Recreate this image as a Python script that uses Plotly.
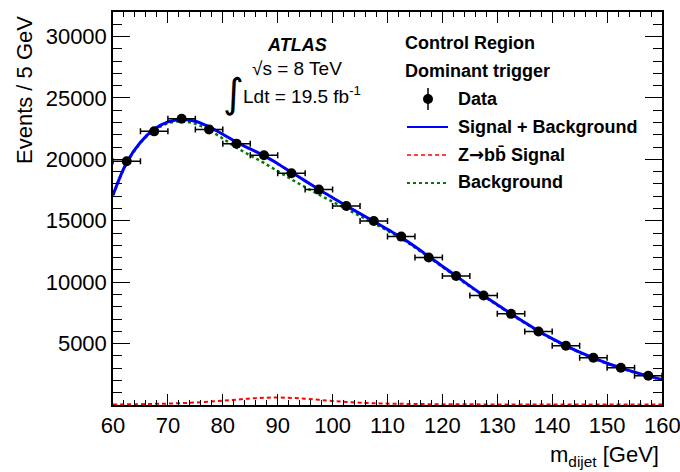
import plotly.graph_objects as go

# ---- data ----
bin_centers = [62.5, 67.5, 72.5, 77.5, 82.5, 87.5, 92.5, 97.5, 102.5, 107.5,
               112.5, 117.5, 122.5, 127.5, 132.5, 137.5, 142.5, 147.5, 152.5, 157.5]
data_counts = [19850, 22280, 23310, 22440, 21280, 20330, 18870, 17540, 16200, 14980,
               13710, 12010, 10510, 8920, 7420, 5990, 4820, 3850, 3030, 2380]
bin_half_width = [2.5] * len(bin_centers)

curve_x = [60, 62.5, 65, 67.5, 70, 72.5, 75, 77.5, 80, 82.5, 85, 87.5, 90, 92.5, 95,
           97.5, 100, 102.5, 105, 107.5, 110, 112.5, 115, 117.5, 120, 122.5, 125,
           127.5, 130, 132.5, 135, 137.5, 140, 142.5, 145, 147.5, 150, 152.5, 155,
           157.5, 160]
sig_plus_bkg = [17100, 19750, 21400, 22450, 23050, 23250, 23100, 22650, 22050, 21400,
                20850, 20300, 19650, 18950, 18250, 17550, 16880, 16220, 15580, 14950,
                14300, 13650, 12900, 12100, 11300, 10500, 9700, 8920, 8170, 7430,
                6720, 6030, 5400, 4830, 4300, 3830, 3400, 3020, 2680, 2370, 2080]
signal = [40, 55, 70, 90, 115, 150, 200, 270, 350, 440, 530, 590, 610, 580, 510,
          420, 330, 250, 190, 145, 115, 95, 80, 70, 62, 57, 53, 50, 48, 46, 44, 42,
          41, 40, 39, 38, 37, 36, 35, 35, 34]
background = [a - b for a, b in zip(sig_plus_bkg, signal)]

x_ticks = [60, 70, 80, 90, 100, 110, 120, 130, 140, 150, 160]
y_ticks = [5000, 10000, 15000, 20000, 25000, 30000]

legend_labels = ["Data", "Signal + Background",
                 "Z<span style='font-family:DejaVu Sans'>\u2192</span>bb\u0304 Signal",
                 "Background"]
header_labels = ["Control Region", "Dominant trigger"]

# ---- layout geometry (pixels) ----
W, H = 680, 472
L, R, T, B = 113, 18, 12, 67
PW, PH = W - L - R, H - T - B


def px(xp):
    return (xp - L) / PW


def py(yp):
    return (H - B - yp) / PH


FONT = "Liberation Sans, Arial, Helvetica, sans-serif"
BLUE = "#0000ff"
RED = "#ff0000"
GREEN = "#007a00"

fig = go.Figure()

fig.add_trace(go.Scatter(x=curve_x, y=signal, mode="lines",
                         line=dict(color=RED, width=2, dash="4px,3px", shape="spline"),
                         showlegend=False))
fig.add_trace(go.Scatter(x=curve_x, y=background, mode="lines",
                         line=dict(color=GREEN, width=2.5, dash="dot", shape="spline"),
                         showlegend=False))
fig.add_trace(go.Scatter(x=curve_x, y=sig_plus_bkg, mode="lines",
                         line=dict(color=BLUE, width=3, shape="spline"),
                         showlegend=False))
fig.add_trace(go.Scatter(x=bin_centers, y=data_counts, mode="markers",
                         marker=dict(color="black", size=10),
                         error_x=dict(type="data", array=bin_half_width, color="black",
                                      thickness=1.5, width=3),
                         showlegend=False))

# legend sample for Data: marker + vertical bar on an overlay axis
fig.add_trace(go.Scatter(x=[px(428)], y=[py(99)], mode="markers",
                         marker=dict(color="black", size=10),
                         error_y=dict(type="constant", value=(11 / PH), color="black",
                                      thickness=1.5, width=0),
                         xaxis="x2", yaxis="y2", showlegend=False))

shapes = []
for ypix, col, dash, wd in [(127, BLUE, "solid", 2), (155, RED, "4px,3px", 1.5),
                            (183, GREEN, "dot", 2)]:
    shapes.append(dict(type="line", xref="paper", yref="paper",
                       x0=px(407), x1=px(448), y0=py(ypix), y1=py(ypix),
                       line=dict(color=col, width=wd, dash=dash)))

annotations = []
for txt, ypix in zip(header_labels, [43, 71]):
    annotations.append(dict(text="<b>%s</b>" % txt, xref="paper", yref="paper",
                            x=px(403), y=py(ypix), xanchor="left", yanchor="middle",
                            showarrow=False, font=dict(family=FONT, size=18, color="black")))
for txt, ypix in zip(legend_labels, [99, 127, 154, 182]):
    annotations.append(dict(text="<b>%s</b>" % txt, xref="paper", yref="paper",
                            x=px(456), y=py(ypix), xanchor="left", yanchor="middle",
                            showarrow=False, font=dict(family=FONT, size=18, color="black")))

annotations += [
    dict(text="<b><i>ATLAS</i></b>", xref="paper", yref="paper", x=px(297), y=py(45),
         xanchor="center", yanchor="middle", showarrow=False,
         font=dict(family=FONT, size=18, color="black")),
    dict(text="\u221as = 8 TeV", xref="paper", yref="paper", x=px(297), y=py(68),
         xanchor="center", yanchor="middle", showarrow=False,
         font=dict(family=FONT, size=19, color="black")),
    dict(text="Ldt = 19.5 fb<sup>-1</sup>", xref="paper", yref="paper", x=px(241), y=py(95),
         xanchor="left", yanchor="middle", showarrow=False,
         font=dict(family=FONT, size=19, color="black")),
    dict(text="\u222b", xref="paper", yref="paper", x=px(233), y=py(93),
         xanchor="center", yanchor="middle", showarrow=False,
         font=dict(family="DejaVu Sans", size=40, color="black")),
    dict(text="Events / 5 GeV", xref="paper", yref="paper", x=px(24), y=py(90),
         xanchor="center", yanchor="middle", textangle=-90, showarrow=False,
         font=dict(family=FONT, size=22, color="black")),
    dict(text="m<sub>dijet</sub> [GeV]", xref="paper", yref="paper", x=px(661), y=py(456),
         xanchor="right", yanchor="middle", showarrow=False,
         font=dict(family=FONT, size=22, color="black")),
    # last x tick label (partly past the page edge, as in the reference)
    dict(text=str(x_ticks[-1]), xref="x", yref="paper", x=x_ticks[-1], y=py(425),
         xanchor="center", yanchor="middle", showarrow=False,
         font=dict(family=FONT, size=22, color="black")),
]

fig.update_layout(
    width=W, height=H,
    margin=dict(l=L, r=R, t=T, b=B, pad=0, autoexpand=False),
    paper_bgcolor="white", plot_bgcolor="white",
    showlegend=False,
    shapes=shapes, annotations=annotations,
    font=dict(family=FONT, size=22, color="black"),
    xaxis=dict(range=[60, 160], tickvals=x_ticks,
               ticktext=[str(v) for v in x_ticks[:-1]] + [""],
               ticks="inside", ticklen=11, tickwidth=1.2, tickcolor="black",
               mirror="allticks", showline=True, linecolor="black", linewidth=1.5,
               showgrid=False, zeroline=False, automargin=False,
               minor=dict(ticks="inside", dtick=2, ticklen=5, tickwidth=1, tickcolor="black",
                          showgrid=False),
               tickfont=dict(family=FONT, size=22, color="black")),
    yaxis=dict(range=[0, 32000], tickvals=y_ticks, ticktext=[str(v) for v in y_ticks],
               ticks="inside", ticklen=17, tickwidth=1.2, tickcolor="black",
               mirror="allticks", showline=True, linecolor="black", linewidth=1.5,
               showgrid=False, zeroline=False, automargin=False,
               minor=dict(ticks="inside", dtick=1000, tick0=0, ticklen=9, tickwidth=1,
                          tickcolor="black", showgrid=False),
               tickfont=dict(family=FONT, size=22, color="black")),
    xaxis2=dict(range=[0, 1], overlaying="x", visible=False, domain=[0, 1]),
    yaxis2=dict(range=[0, 1], overlaying="y", visible=False),
)

fig.write_html("out.html")
